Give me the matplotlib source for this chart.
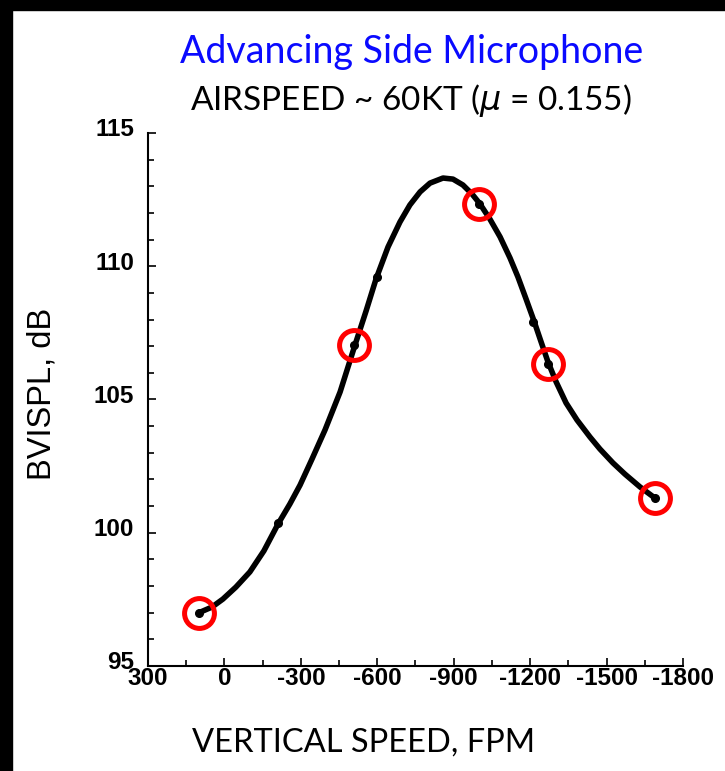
#!/usr/bin/env python3
import matplotlib.pyplot as plt
import matplotlib.transforms as mtransforms
from matplotlib.patches import Rectangle
from matplotlib.ticker import MultipleLocator

plt.rcParams['axes.unicode_minus'] = False

# measured points (vertical speed in FPM, BVISPL in dB)
speed = [100, -210, -510, -600, -1000, -1210, -1270, -1690]
bvispl = [97.0, 100.35, 107.05, 109.6, 112.35, 107.9, 106.35, 101.3]

# points that are circled in red
circ_speed = [100, -510, -1000, -1270, -1690]
circ_bvispl = [97.0, 107.05, 112.35, 106.35, 101.3]

# fitted curve
fit_speed = [100, 49, 6, -45, -100, -155, -210, -257, -297, -344, -395,
             -454, -510, -556, -595, -642, -689, -728, -768, -807, -858,
             -897, -936, -972, -1003, -1042, -1082, -1121, -1152, -1184,
             -1215, -1243, -1270, -1302, -1341, -1384, -1435, -1474, -1525,
             -1572, -1631, -1690]
fit_bvispl = [97.0, 97.21, 97.51, 97.96, 98.53, 99.32, 100.32, 101.08,
              101.79, 102.77, 103.86, 105.28, 106.97, 108.32, 109.52, 110.72,
              111.66, 112.30, 112.79, 113.12, 113.31, 113.27, 113.05, 112.71,
              112.34, 111.77, 111.10, 110.31, 109.60, 108.77, 107.95, 107.16,
              106.41, 105.66, 104.87, 104.23, 103.59, 103.14, 102.62, 102.20,
              101.72, 101.30]

fig = plt.figure(figsize=(7.25, 7.71), dpi=100)
ax = fig.add_axes([0.2041, 0.1362, 0.738, 0.6913])

ax.plot(fit_speed, fit_bvispl, color='black', lw=4, solid_capstyle='round',
        solid_joinstyle='round', zorder=2)
ax.plot(speed, bvispl, 'o', color='black', ms=5.5, zorder=3)
ax.plot(circ_speed, circ_bvispl, 'o', mfc='none', mec='#ff0000', ms=21.5, mew=3.6, zorder=4)

ax.set_xlim(300, -1800)
ax.set_ylim(95, 115)
ax.xaxis.set_major_locator(MultipleLocator(300))
ax.xaxis.set_minor_locator(MultipleLocator(150))
ax.yaxis.set_major_locator(MultipleLocator(5))
ax.yaxis.set_minor_locator(MultipleLocator(1))
ax.spines['top'].set_visible(False)
ax.spines['right'].set_visible(False)
for s in ('left', 'bottom'):
    ax.spines[s].set_linewidth(1.5)
ax.tick_params(which='both', direction='in', width=1.2)
ax.tick_params(which='major', length=6)
ax.tick_params(which='minor', length=4)
ax.tick_params(axis='x', which='major', pad=0.5)
ax.tick_params(axis='y', which='major', pad=10)
for lab in ax.get_xticklabels() + ax.get_yticklabels():
    lab.set_fontfamily('Liberation Sans')
    lab.set_fontweight('bold')
    lab.set_fontsize(17.5)
# y labels sit a little above their ticks in the reference
shift = mtransforms.ScaledTranslation(0, 4 / 72, fig.dpi_scale_trans)
for lab in ax.get_yticklabels():
    lab.set_transform(lab.get_transform() + shift)

fig.text(0.568, 0.932, 'Advancing Side Microphone', color='#0a0aff',
         fontsize=27, family='Lato', ha='center', va='center')
fig.text(0.567, 0.870, r'AIRSPEED ~ 60KT ($\mu$ = 0.155)', color='black',
         fontsize=24, family='Lato', ha='center', va='center')
fig.text(0.502, 0.037, 'VERTICAL SPEED, FPM', color='black',
         fontsize=23.5, family='Lato', ha='center', va='center')
fig.text(0.058, 0.489, 'BVISPL, dB', color='black', rotation=90,
         fontsize=23.5, family='Liberation Sans', ha='center', va='center')

# black strips along the left and top edges
fig.patches.append(Rectangle((0, 0), 12 / 725, 1, transform=fig.transFigure,
                             color='black', zorder=0))
fig.patches.append(Rectangle((0, 1 - 10 / 771), 1, 10 / 771, transform=fig.transFigure,
                             color='black', zorder=0))

plt.savefig('out.png', dpi=100)
